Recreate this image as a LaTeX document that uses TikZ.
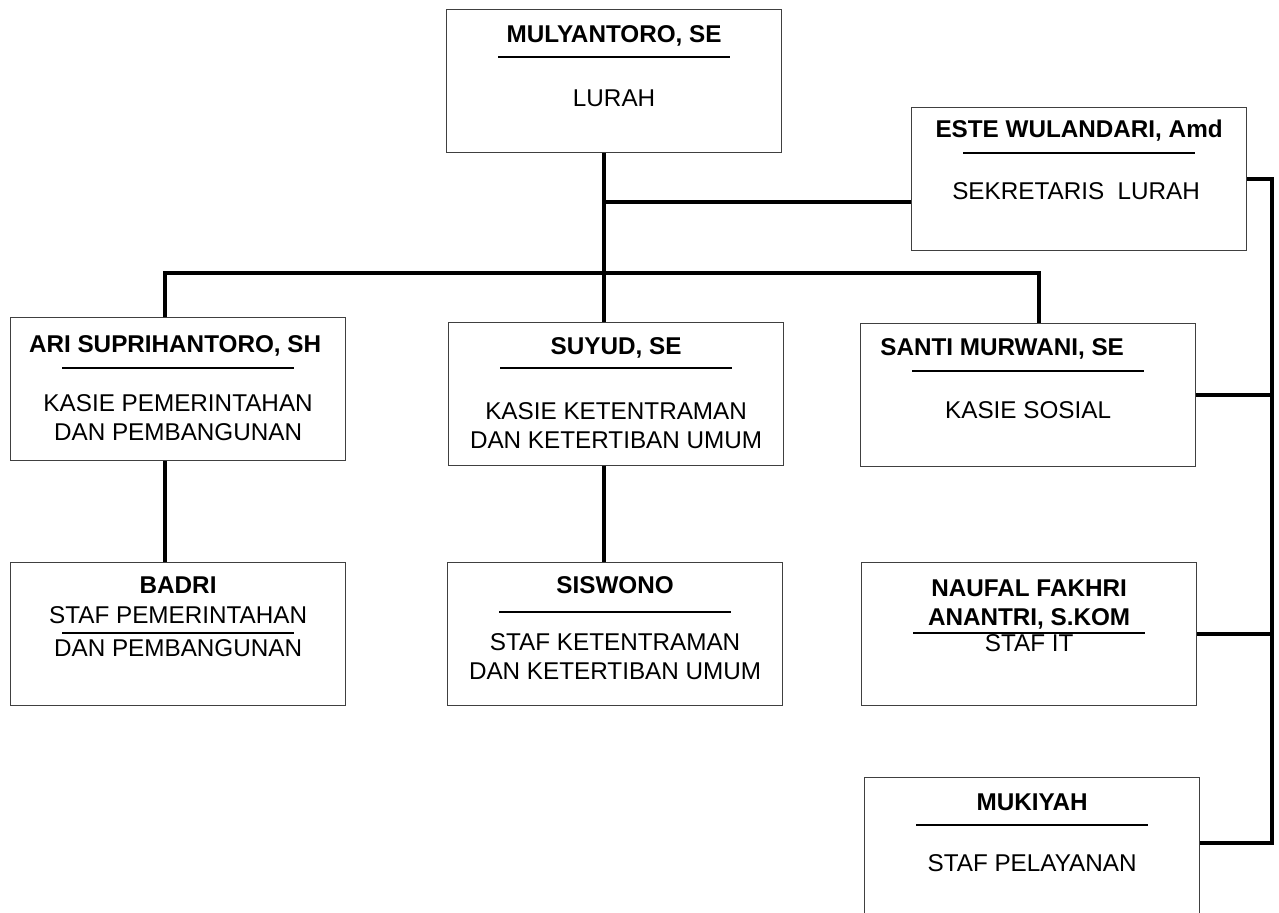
\documentclass[tikz,border=0pt]{standalone}
\usepackage{fontspec}
\setmainfont{Liberation Sans}
\usetikzlibrary{calc,positioning}

\begin{document}
\begin{tikzpicture}[
            x=0.75pt, y=-0.75pt,
            box/.style={draw=black!75, line width=0.9pt, anchor=north west,
                minimum width=251.25pt, minimum height=107.25pt, inner sep=0pt},
            personname/.style={anchor=base, font=\bfseries, align=center},
            position/.style={anchor=base, align=center},
            rule/.style={line width=0.8pt},
            link/.style={line width=3.4pt}
        ]
        \fontsize{18.2}{21.2}\selectfont
        \useasboundingbox (0,0) rectangle (1279,913);

        % lurah and sekretaris
        \node[box] (lurah) at (446,9) {};
        \node[personname] (lurahname) at ($(lurah.north)+(0,34)$) {MULYANTORO, SE};
        \draw[rule] ($(lurah.north)+(-116,48)$) -- ++(232,0);
        \node[position] (lurahpos) at ($(lurah.north)+(0,98)$) {LURAH};

        \node[box] (sekre) at (911,107) {};
        \node[personname] (sekrename) at ($(sekre.north)+(0,31)$) {ESTE WULANDARI, Amd};
        \draw[rule] ($(sekre.north)+(-116,46)$) -- ++(232,0);
        \node[position] (sekrepos) at ($(sekre.north)+(-3,93)$) {SEKRETARIS\ \ LURAH};

        % kasie (two-line texts sit on their last baseline)
        \node[box] (ari) at (10,317) {};
        \node[personname] (ariname) at ($(ari.north)+(-3,35)$) {ARI SUPRIHANTORO, SH};
        \draw[rule] ($(ari.north)+(-116,51)$) -- ++(232,0);
        \node[position] (aripos) at ($(ari.north)+(0,123)$) {KASIE PEMERINTAHAN\\DAN PEMBANGUNAN};

        \node[box] (suyud) at (448,322) {};
        \node[personname] (suyudname) at ($(suyud.north)+(0,32)$) {SUYUD, SE};
        \draw[rule] ($(suyud.north)+(-116,46)$) -- ++(232,0);
        \node[position] (suyudpos) at ($(suyud.north)+(0,126)$) {KASIE KETENTRAMAN\\DAN KETERTIBAN UMUM};

        \node[box] (santi) at (860,323) {};
        \node[personname] (santiname) at ($(santi.north)+(-26,32)$) {SANTI MURWANI, SE};
        \draw[rule] ($(santi.north)+(-116,48)$) -- ++(232,0);
        \node[position] (santipos) at ($(santi.north)+(0,95)$) {KASIE SOSIAL};

        % staf
        \node[box] (badri) at (10,562) {};
        \node[personname] (badriname) at ($(badri.north)+(0,31)$) {BADRI};
        \node[position] (badripos) at ($(badri.north)+(0,61)$) {STAF PEMERINTAHAN};
        \draw[rule] ($(badri.north)+(-116,71)$) -- ++(232,0);
        \node[position] (badripos2) at ($(badri.north)+(0,94)$) {DAN PEMBANGUNAN};

        \node[box] (siswono) at (447,562) {};
        \node[personname] (siswononame) at ($(siswono.north)+(0,31)$) {SISWONO};
        \draw[rule] ($(siswono.north)+(-116,50)$) -- ++(232,0);
        \node[position] (siswonopos) at ($(siswono.north)+(0,117)$) {STAF KETENTRAMAN\\DAN KETERTIBAN UMUM};

        \node[box] (naufal) at (861,562) {};
        \node[personname] (naufalname) at ($(naufal.north)+(0,63)$) {NAUFAL FAKHRI\\ANANTRI, S.KOM};
        \draw[rule] ($(naufal.north)+(-116,71)$) -- ++(232,0);
        \node[position] (naufalpos) at ($(naufal.north)+(0,89)$) {STAF IT};

        \node[box, minimum height=120pt] (mukiyah) at (864,777) {};
        \node[personname] (mukiyahname) at ($(mukiyah.north)+(0,33)$) {MUKIYAH};
        \draw[rule] ($(mukiyah.north)+(-116,48)$) -- ++(232,0);
        \node[position] (mukiyahpos) at ($(mukiyah.north)+(0,94)$) {STAF PELAYANAN};

        % connectors
        \coordinate (trunk) at (604,202);
        \coordinate (leftdrop) at (165,273);
        \coordinate (rightdrop) at (1039,273);
        \coordinate (spine) at (1272,843);

        \draw[link] (trunk |- lurah.south) -- (trunk |- suyud.north);
        \draw[link] (trunk) -- (trunk -| sekre.west);
        \draw[link] (leftdrop |- ari.north) -- (leftdrop) -- (rightdrop) -- (rightdrop |- santi.north);
        \draw[link] (leftdrop |- ari.south) -- (leftdrop |- badri.north);
        \draw[link] (trunk |- suyud.south) -- (trunk |- siswono.north);

        \draw[link] (sekre.east) -| (spine) -- (spine -| mukiyah.east);
        \draw[link] (santi.east) -- (santi.east -| spine);
        \draw[link] (naufal.east) -- (naufal.east -| spine);
    \end{tikzpicture}
\end{document}
